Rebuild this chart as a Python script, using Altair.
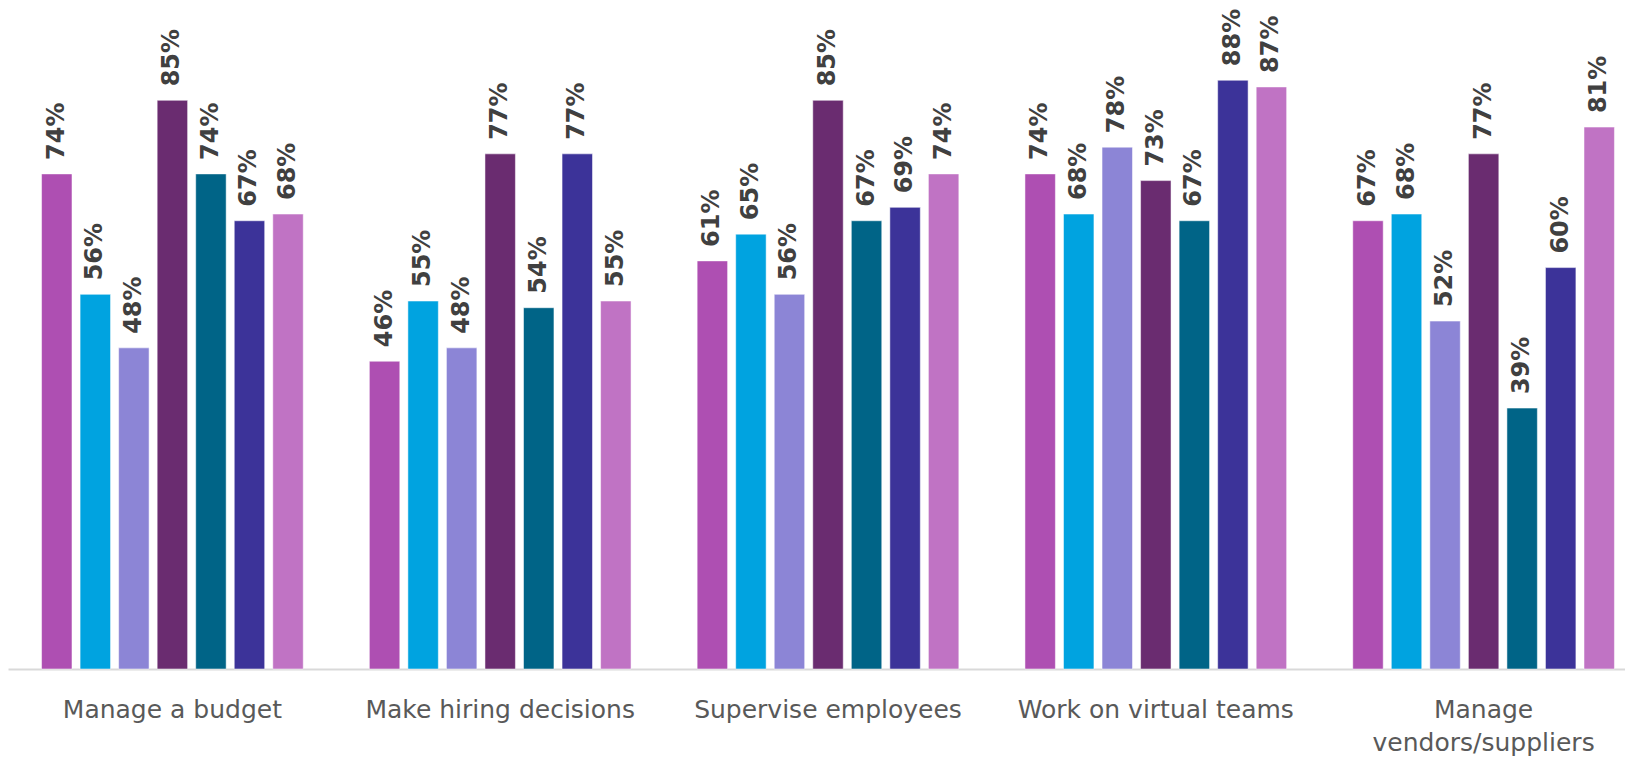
import altair as alt
import pandas as pd

categories = ["Manage a budget", "Make hiring decisions", "Supervise employees",
              "Work on virtual teams", "Manage vendors/suppliers"]
series = ["Series 1", "Series 2", "Series 3", "Series 4", "Series 5", "Series 6", "Series 7"]
colors = ["#AE4FB2", "#00A3E0", "#8C85D6", "#6A2C70", "#006487", "#3C3399", "#C073C4"]

manage_budget = [74, 56, 48, 85, 74, 67, 68]
hiring = [46, 55, 48, 77, 54, 77, 55]
supervise = [61, 65, 56, 85, 67, 69, 74]
virtual = [74, 68, 78, 73, 67, 88, 87]
vendors = [67, 68, 52, 77, 39, 60, 81]

rows = []
for cat, vals in zip(categories, [manage_budget, hiring, supervise, virtual, vendors]):
    for s, v in zip(series, vals):
        rows.append({"category": cat, "series": s, "value": v, "label": f"{v}%"})
df = pd.DataFrame(rows)

x = alt.X("category:N", sort=categories, title=None,
          scale=alt.Scale(paddingInner=0.177, paddingOuter=0.09, range=[0, 1640]),
          axis=alt.Axis(labelAngle=0, ticks=False, domainColor="#D9D9D9", domainWidth=2,
                        labelFont="DejaVu Sans", labelFontSize=25, labelColor="#595959",
                        labelPadding=28, labelLineHeight=33, labelLimit=0,
                        labelExpr="datum.label == 'Manage vendors/suppliers' ? ['Manage', 'vendors/suppliers'] : datum.label"))
xo = alt.XOffset("series:N", sort=series,
                 scale=alt.Scale(paddingInner=0.21, paddingOuter=0.105))
y = alt.Y("value:Q", title=None, axis=None,
          scale=alt.Scale(domain=[0, 98.8], nice=False))

bars = alt.Chart(df).mark_bar(stroke="white", strokeWidth=1, strokeOpacity=0.5).encode(
    x=x, xOffset=xo, y=y,
    color=alt.Color("series:N", sort=series, scale=alt.Scale(domain=series, range=colors), legend=None),
)

text = alt.Chart(df).mark_text(angle=270, align="left", baseline="middle", dx=14,
                               font="DejaVu Sans", fontWeight="bold", fontSize=24,
                               color="#404040").encode(
    x=x, xOffset=xo, y=y, text="label:N"
)

chart = (bars + text).properties(
    width=1617, height=661,
    autosize=alt.AutoSizeParams(type="none"),
    padding={"left": 0, "top": 0, "right": 0, "bottom": 88},
).configure_view(stroke=None)

chart.save("out.html", embed_options={"renderer": "svg", "actions": False})
